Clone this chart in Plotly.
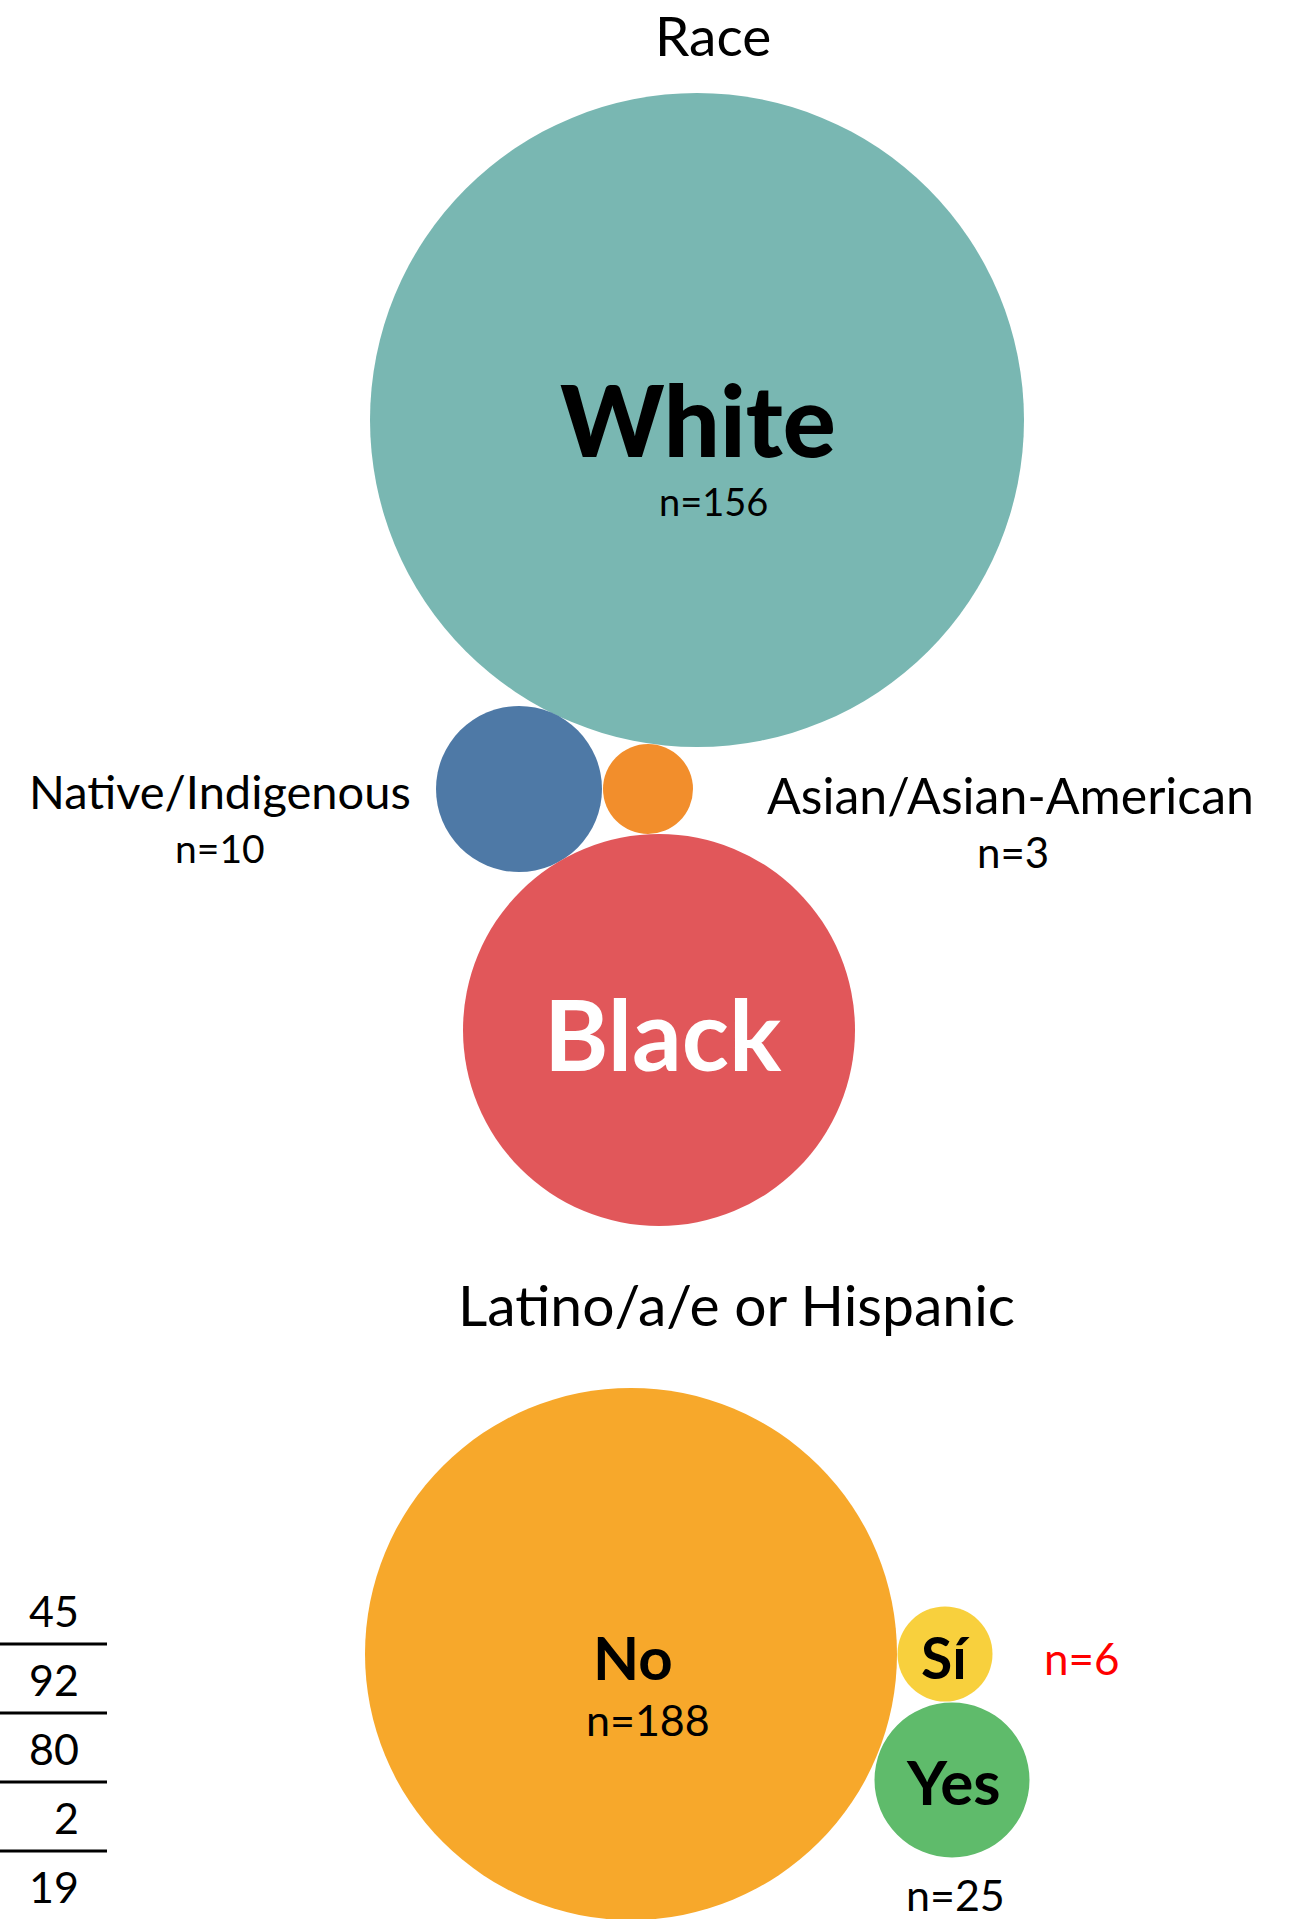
import plotly.graph_objects as go

# ---------------- data ----------------
race_labels = ["White", "Native/Indigenous", "Asian/Asian-American", "Black"]
race_n = [156, 10, 3, 56]          # Black n not printed in the chart

latino_labels = ["No", "Sí", "Yes"]
latino_n = [188, 6, 25]

table_values = [45, 92, 80, 2, 19]

titles = ["Race", "Latino/a/e or Hispanic"]

# ---------------- layout / geometry (pixel space) ----------------
W, H = 1303, 1919
race_geom = [  # cx, cy, r
    (697, 420, 327),
    (519, 789, 83),
    (648, 789, 45),
    (659, 1030, 196),
]
latino_geom = [
    (631, 1654, 266),
    (945, 1654, 47.5),
    (952, 1780, 77.5),
]
race_colors = ["#79b7b2", "#4e79a6", "#f28e2c", "#e1575a"]
latino_colors = ["#f7a82b", "#f8d03d", "#5fbb6b"]

FUT = "Lato"
CAL = "Lato"

fig = go.Figure()
fig.add_trace(go.Scatter(x=[0, W], y=[0, H], mode="markers",
                         marker=dict(opacity=0), hoverinfo="skip", showlegend=False))

shapes = []
for (cx, cy, r), col in zip(race_geom + latino_geom, race_colors + latino_colors):
    shapes.append(dict(type="circle", xref="x", yref="y",
                       x0=cx - r, x1=cx + r, y0=cy - r, y1=cy + r,
                       fillcolor=col, line=dict(width=0), layer="below"))

# table lines
tbl_x_right = 81
tbl_y0, tbl_dy = 1610, 69
for i in range(len(table_values) - 1):
    yl = tbl_y0 + tbl_dy * i + 34
    shapes.append(dict(type="line", xref="x", yref="y", x0=0, x1=107, y0=yl, y1=yl,
                       line=dict(color="black", width=3)))

ann = []
def txt(x, y, s, size, color="black", family=FUT, weight="normal", xanchor="center"):
    ann.append(dict(x=x, y=y, xref="x", yref="y", text=s, showarrow=False,
                    xanchor=xanchor, yanchor="middle",
                    font=dict(size=size, color=color, family=family, weight=weight)))

# titles
txt(713, 35, titles[0], 55)
txt(736, 1304, titles[1], 57)

# race labels
txt(698, 418, race_labels[0], 99, weight=900)
txt(713, 501, f"n={race_n[0]}", 38)
txt(220, 791, race_labels[1], 47)
txt(220, 848, f"n={race_n[1]}", 39)
txt(1010, 795, race_labels[2], 50)
txt(1013, 852, f"n={race_n[2]}", 42)
txt(663, 1033, race_labels[3], 98, color="white", family=CAL, weight="bold")

# latino labels
txt(633, 1657, latino_labels[0], 60, family=CAL, weight="bold")
txt(648, 1719, f"n={latino_n[0]}", 43, family=CAL)
txt(945, 1657, latino_labels[1], 57, family=CAL, weight="bold")
txt(1082, 1658, f"n={latino_n[1]}", 44, color="#ff0000", family=CAL)
txt(953, 1781, latino_labels[2], 62, family=CAL, weight="bold")
txt(955, 1894, f"n={latino_n[2]}", 43, family=CAL)

# table numbers
for i, v in enumerate(table_values):
    txt(tbl_x_right, tbl_y0 + tbl_dy * i, str(v), 43, family=CAL, xanchor="right")

fig.update_layout(
    width=W, height=H, margin=dict(l=0, r=0, t=0, b=0),
    paper_bgcolor="white", plot_bgcolor="white",
    xaxis=dict(range=[0, W], visible=False, fixedrange=True),
    yaxis=dict(range=[H, 0], visible=False, fixedrange=True),
    shapes=shapes, annotations=ann, showlegend=False,
)
fig.write_html("out.html", config={"displayModeBar": False})
